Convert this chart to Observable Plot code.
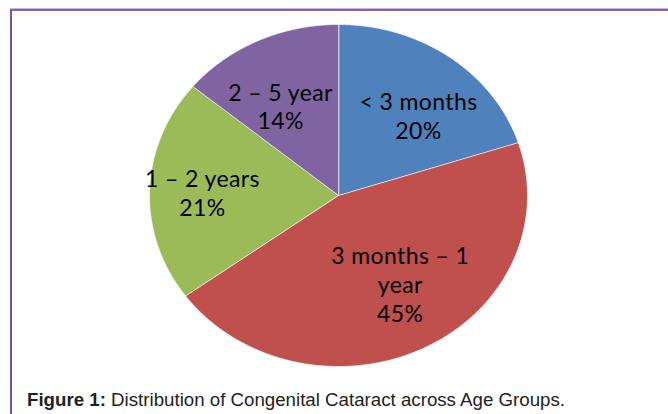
<!DOCTYPE html>
<html>
<head>
<meta charset="utf-8">
<script src="https://cdn.jsdelivr.net/npm/d3@7"></script>
<script src="https://cdn.jsdelivr.net/npm/@observablehq/plot@0.6"></script>
<style>
  html, body { margin: 0; padding: 0; background: #fff; }
  #wrap { position: relative; width: 668px; height: 414px; overflow: hidden; }
  #topline { position: absolute; left: 10px; top: 8px; width: 700px; height: 1px; background: #c4b6dd; }
  #frame { position: absolute; left: 10px; top: 9px; width: 700px; height: 450px;
           border-top: 2px solid #8364a8; border-left: 2px solid #7750b0; box-sizing: border-box; }
  #chart { position: absolute; left: 0; top: 0; }
  #caption { position: absolute; left: 27px; top: 391px; font-family: "Liberation Sans", Arial, sans-serif;
             font-size: 18.7px; line-height: 18.7px; color: #222; white-space: nowrap; }
</style>
</head>
<body>
<div id="wrap">
  <div id="topline"></div>
  <div id="frame"></div>
  <div id="chart"></div>
  <div id="caption"><b>Figure 1:</b> Distribution of Congenital Cataract across Age Groups.</div>
</div>
<script>
// Data
const categories = ["< 3 months", "3 months – 1 year", "1 – 2 years", "2 – 5 year"];
const percents = [20, 45, 21, 14];
const colors = ["#4F81BD", "#C0504D", "#9BBB59", "#8064A2"];

const table = categories.map((name, i) => ({name, value: percents[i]}));
const arcs = d3.pie().sort(null).value(d => d.value).startAngle(0).endAngle(2 * Math.PI)(table);

// Slice outlines in unit coordinates (angle clockwise from 12 o'clock)
const pts = [];
for (const a of arcs) {
  const n = Math.max(2, Math.ceil((a.endAngle - a.startAngle) / (Math.PI / 360)));
  pts.push({name: a.data.name, x: 0, y: 0});
  for (let k = 0; k <= n; k++) {
    const t = a.startAngle + (a.endAngle - a.startAngle) * k / n;
    pts.push({name: a.data.name, x: Math.sin(t), y: Math.cos(t)});
  }
}

// Label anchors at the slice mid-angle
const kx = 0.72, ky = 0.58;
const labels = arcs.map(a => {
  const m = (a.startAngle + a.endAngle) / 2;
  return {name: a.data.name, value: a.data.value, x: kx * Math.sin(m), y: ky * Math.cos(m)};
});

const chart = Plot.plot({
  width: 668,
  height: 380,
  margin: 0,
  x: {domain: [-1, 1], range: [149, 527], axis: null},
  y: {domain: [-1, 1], range: [366, 24], axis: null},
  color: {domain: categories, range: colors},
  style: {background: "transparent", letterSpacing: "0.4px"},
  marks: [
    Plot.line(pts, {x: "x", y: "y", z: "name", fill: "name", stroke: "#ffffff", strokeWidth: 0.8, strokeOpacity: 0.8, curve: "linear-closed"}),
    Plot.text(labels, {
      x: "x", y: "y",
      text: d => `${d.name}\n${d.value}%`,
      lineWidth: 7,
      lineHeight: 1.25,
      fontSize: 23,
      fontFamily: "Lato",
      fill: "#000",
      textAnchor: "middle"
    })
  ]
});
document.getElementById("chart").appendChild(chart);
</script>
</body>
</html>
